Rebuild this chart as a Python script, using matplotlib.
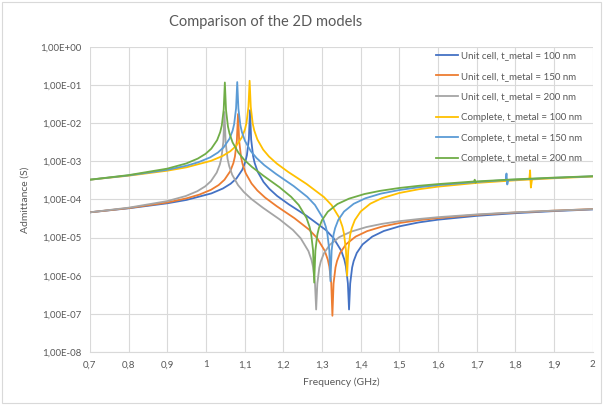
import matplotlib
matplotlib.use("Agg")
import matplotlib.pyplot as plt
from matplotlib.patches import Rectangle
from matplotlib.ticker import FixedLocator, FuncFormatter, NullLocator

plt.rcParams['font.family'] = ['Lato', 'DejaVu Sans']

# ── data (frequency in GHz, admittance in S) ──
f_uc100 = [0.7, 0.8, 0.9, 0.95, 1.014, 1.044, 1.064, 1.079, 1.094, 1.102, 1.106, 1.111,
           1.114, 1.117, 1.122, 1.126, 1.134, 1.149, 1.164, 1.184, 1.214, 1.26, 1.31, 1.33,
           1.35, 1.358, 1.362, 1.367, 1.37, 1.373, 1.378, 1.382, 1.39, 1.405, 1.43, 1.46,
           1.5, 1.55, 1.6, 1.7, 1.8, 1.9, 2.0]
y_uc100 = [4.60e-5, 5.86e-5, 7.93e-5, 9.73e-5, 1.44e-4, 1.94e-4, 2.59e-4, 3.56e-4, 6.00e-4,
           9.77e-4, 1.45e-3, 3.81e-3, 2.2e-2, 3.74e-3, 1.38e-3, 9.08e-4, 5.30e-4, 2.87e-4,
           1.90e-4, 1.24e-4, 7.48e-5, 3.74e-5, 1.58e-5, 9.68e-6, 4.49e-6, 2.62e-6, 1.72e-6,
           6.36e-7, 1.3e-7, 6.24e-7, 1.64e-6, 2.43e-6, 3.95e-6, 6.62e-6, 1.06e-5, 1.49e-5,
           1.97e-5, 2.50e-5, 2.95e-5, 3.72e-5, 4.37e-5, 4.95e-5, 5.48e-5]

f_uc150 = [0.7, 0.8, 0.9, 0.95, 0.983, 1.013, 1.033, 1.048, 1.063, 1.071, 1.075, 1.080,
           1.083, 1.086, 1.091, 1.095, 1.103, 1.118, 1.133, 1.153, 1.183, 1.229, 1.267, 1.287,
           1.307, 1.315, 1.319, 1.324, 1.327, 1.330, 1.335, 1.339, 1.347, 1.362, 1.387, 1.417,
           1.457, 1.5, 1.55, 1.6, 1.7, 1.8, 1.9, 2.0]
y_uc150 = [4.60e-5, 5.94e-5, 8.33e-5, 1.07e-4, 1.34e-4, 1.79e-4, 2.39e-4, 3.29e-4, 5.52e-4,
           8.98e-4, 1.33e-3, 3.49e-3, 1.74e-2, 3.43e-3, 1.26e-3, 8.31e-4, 4.85e-4, 2.62e-4,
           1.72e-4, 1.12e-4, 6.66e-5, 3.22e-5, 1.61e-5, 9.83e-6, 4.54e-6, 2.65e-6, 1.74e-6,
           6.41e-7, 8.9e-8, 6.28e-7, 1.65e-6, 2.44e-6, 3.97e-6, 6.64e-6, 1.06e-5, 1.48e-5,
           1.96e-5, 2.41e-5, 2.86e-5, 3.25e-5, 3.95e-5, 4.55e-5, 5.09e-5, 5.59e-5]

f_uc200 = [0.7, 0.8, 0.9, 0.948, 0.978, 0.998, 1.013, 1.028, 1.036, 1.040, 1.045, 1.048,
           1.051, 1.056, 1.060, 1.068, 1.083, 1.098, 1.118, 1.148, 1.19, 1.225, 1.245, 1.265,
           1.273, 1.277, 1.282, 1.285, 1.288, 1.293, 1.297, 1.305, 1.320, 1.345, 1.375, 1.415,
           1.455, 1.5, 1.55, 1.6, 1.7, 1.8, 1.9, 2.0]
y_uc200 = [4.60e-5, 6.08e-5, 9.04e-5, 1.23e-4, 1.65e-4, 2.20e-4, 3.02e-4, 5.07e-4, 8.24e-4,
           1.22e-3, 3.20e-3, 1.96e-2, 3.14e-3, 1.16e-3, 7.61e-4, 4.44e-4, 2.39e-4, 1.57e-4,
           1.02e-4, 6.00e-5, 3.03e-5, 1.58e-5, 9.60e-6, 4.43e-6, 2.58e-6, 1.69e-6, 6.24e-7,
           1.3e-7, 6.11e-7, 1.60e-6, 2.37e-6, 3.85e-6, 6.43e-6, 1.03e-5, 1.43e-5, 1.89e-5,
           2.29e-5, 2.69e-5, 3.07e-5, 3.43e-5, 4.05e-5, 4.60e-5, 5.10e-5, 5.57e-5]

f_c100 = [0.7, 0.8, 0.9, 0.95, 1.013, 1.043, 1.063, 1.078, 1.093, 1.101, 1.105, 1.110,
          1.113, 1.116, 1.121, 1.125, 1.133, 1.148, 1.163, 1.183, 1.213, 1.26, 1.305, 1.325,
          1.345, 1.353, 1.357, 1.362, 1.365, 1.368, 1.373, 1.377, 1.385, 1.40, 1.425, 1.455,
          1.5, 1.55, 1.6, 1.7, 1.8, 1.836, 1.838, 1.840, 1.843, 1.9, 2.0]
y_c100 = [3.30e-4, 4.20e-4, 5.68e-4, 6.98e-4, 1.03e-3, 1.38e-3, 1.84e-3, 2.53e-3, 4.26e-3,
          6.94e-3, 1.03e-2, 2.70e-2, 1.30e-1, 2.65e-2, 9.78e-3, 6.44e-3, 3.76e-3, 2.03e-3,
          1.34e-3, 8.78e-4, 5.25e-4, 2.56e-4, 1.16e-4, 7.09e-5, 3.29e-5, 1.92e-5, 1.26e-5,
          4.65e-6, 1.0e-6, 4.56e-6, 1.20e-5, 1.77e-5, 2.88e-5, 4.83e-5, 7.75e-5, 1.08e-4,
          1.48e-4, 1.85e-4, 2.17e-4, 2.72e-4, 3.18e-4, 3.33e-4, 5.8e-4, 2.05e-4, 3.35e-4,
          3.60e-4, 3.98e-4]

f_c150 = [0.7, 0.8, 0.9, 0.95, 0.981, 1.011, 1.031, 1.046, 1.061, 1.069, 1.073, 1.078,
          1.081, 1.084, 1.089, 1.093, 1.101, 1.116, 1.131, 1.151, 1.181, 1.227, 1.262, 1.282,
          1.302, 1.310, 1.314, 1.319, 1.322, 1.325, 1.330, 1.334, 1.342, 1.357, 1.382, 1.412,
          1.452, 1.5, 1.55, 1.6, 1.7, 1.775, 1.777, 1.779, 1.782, 1.8, 1.9, 2.0]
y_c150 = [3.30e-4, 4.27e-4, 5.99e-4, 7.68e-4, 9.51e-4, 1.27e-3, 1.70e-3, 2.34e-3, 3.92e-3,
          6.38e-3, 9.45e-3, 2.48e-2, 1.20e-1, 2.43e-2, 8.97e-3, 5.89e-3, 3.44e-3, 1.85e-3,
          1.22e-3, 7.93e-4, 4.69e-4, 2.24e-4, 1.17e-4, 7.15e-5, 3.30e-5, 1.92e-5, 1.26e-5,
          4.65e-6, 7.2e-7, 4.56e-6, 1.20e-5, 1.77e-5, 2.88e-5, 4.81e-5, 7.69e-5, 1.07e-4,
          1.42e-4, 1.77e-4, 2.09e-4, 2.38e-4, 2.87e-4, 3.23e-4, 4.8e-4, 2.47e-4, 3.26e-4,
          3.30e-4, 3.69e-4, 4.05e-4]

f_c200 = [0.7, 0.8, 0.9, 0.949, 0.979, 0.999, 1.014, 1.029, 1.037, 1.041, 1.046, 1.049,
          1.052, 1.057, 1.061, 1.069, 1.084, 1.099, 1.119, 1.149, 1.19, 1.22, 1.24, 1.26,
          1.268, 1.272, 1.277, 1.280, 1.283, 1.288, 1.292, 1.30, 1.315, 1.34, 1.37, 1.41,
          1.45, 1.5, 1.55, 1.6, 1.693, 1.695, 1.697, 1.700, 1.8, 1.9, 2.0]
y_c200 = [3.30e-4, 4.35e-4, 6.43e-4, 8.78e-4, 1.18e-3, 1.57e-3, 2.15e-3, 3.60e-3, 5.85e-3,
          8.66e-3, 2.27e-2, 1.17e-1, 2.22e-2, 8.19e-3, 5.38e-3, 3.13e-3, 1.69e-3, 1.10e-3,
          7.14e-4, 4.17e-4, 2.10e-4, 1.18e-4, 7.16e-5, 3.29e-5, 1.91e-5, 1.26e-5, 4.63e-6,
          6.6e-7, 4.53e-6, 1.19e-5, 1.76e-5, 2.85e-5, 4.76e-5, 7.59e-5, 1.05e-4, 1.39e-4,
          1.68e-4, 2.00e-4, 2.28e-4, 2.53e-4, 2.96e-4, 3.30e-4, 2.75e-4, 2.98e-4, 3.38e-4,
          3.74e-4, 4.08e-4]

series = [
    ("Unit cell, t_metal = 100 nm", f_uc100, y_uc100, "#4472C4"),
    ("Unit cell, t_metal = 150 nm", f_uc150, y_uc150, "#ED7D31"),
    ("Unit cell, t_metal = 200 nm", f_uc200, y_uc200, "#A5A5A5"),
    ("Complete, t_metal = 100 nm", f_c100, y_c100, "#FFC000"),
    ("Complete, t_metal = 150 nm", f_c150, y_c150, "#5B9BD5"),
    ("Complete, t_metal = 200 nm", f_c200, y_c200, "#70AD47"),
]

x_ticks = [0.7, 0.8, 0.9, 1.0, 1.1, 1.2, 1.3, 1.4, 1.5, 1.6, 1.7, 1.8, 1.9, 2.0]
y_ticks = [1e-8, 1e-7, 1e-6, 1e-5, 1e-4, 1e-3, 1e-2, 1e-1, 1e0]

TXT = "#595959"
GRID = "#D9D9D9"

fig = plt.figure(figsize=(6.03, 4.05), dpi=100)
ax = fig.add_axes([0.149, 0.131, 0.834, 0.753])

for label, f, y, c in series:
    ax.plot(f, y, color=c, lw=1.3, label=label)

ax.set_yscale("log")
ax.set_xlim(0.7, 2.0)
ax.set_ylim(1e-8, 1e0)

ax.xaxis.set_major_locator(FixedLocator(x_ticks))
ax.xaxis.set_major_formatter(FuncFormatter(lambda v, p: f"{v:g}".replace(".", ",")))
ax.yaxis.set_major_locator(FixedLocator(y_ticks))
ax.yaxis.set_major_formatter(FuncFormatter(lambda v, p: f"{v:.2E}".replace(".", ",")))
ax.yaxis.set_minor_locator(NullLocator())

ax.grid(True, color=GRID, lw=0.8)
ax.set_axisbelow(True)
for s in ("top", "right", "left"):
    ax.spines[s].set_visible(False)
ax.spines["bottom"].set_color(GRID)
ax.tick_params(length=0, labelsize=7, labelcolor=TXT, pad=6)

ax.set_xlabel("Frequency (GHz)", fontsize=7.5, color=TXT, labelpad=6)
ax.set_ylabel("Admittance (S)", fontsize=7.5, color=TXT, labelpad=8)
fig.text(0.441, 0.946, "Comparison of the 2D models", ha="center", va="center",
         fontsize=10.5, color=TXT)

leg = ax.legend(loc="upper left", bbox_to_anchor=(0.67, 1.015), frameon=False,
                fontsize=7, labelcolor=TXT, handlelength=2.3, handletextpad=0.3,
                labelspacing=1.2)

fig.patches.append(Rectangle((0.004, 0.004), 0.992, 0.99, transform=fig.transFigure,
                             fill=False, edgecolor=GRID, lw=0.8))

fig.savefig("out.png", dpi=100, facecolor="white")
